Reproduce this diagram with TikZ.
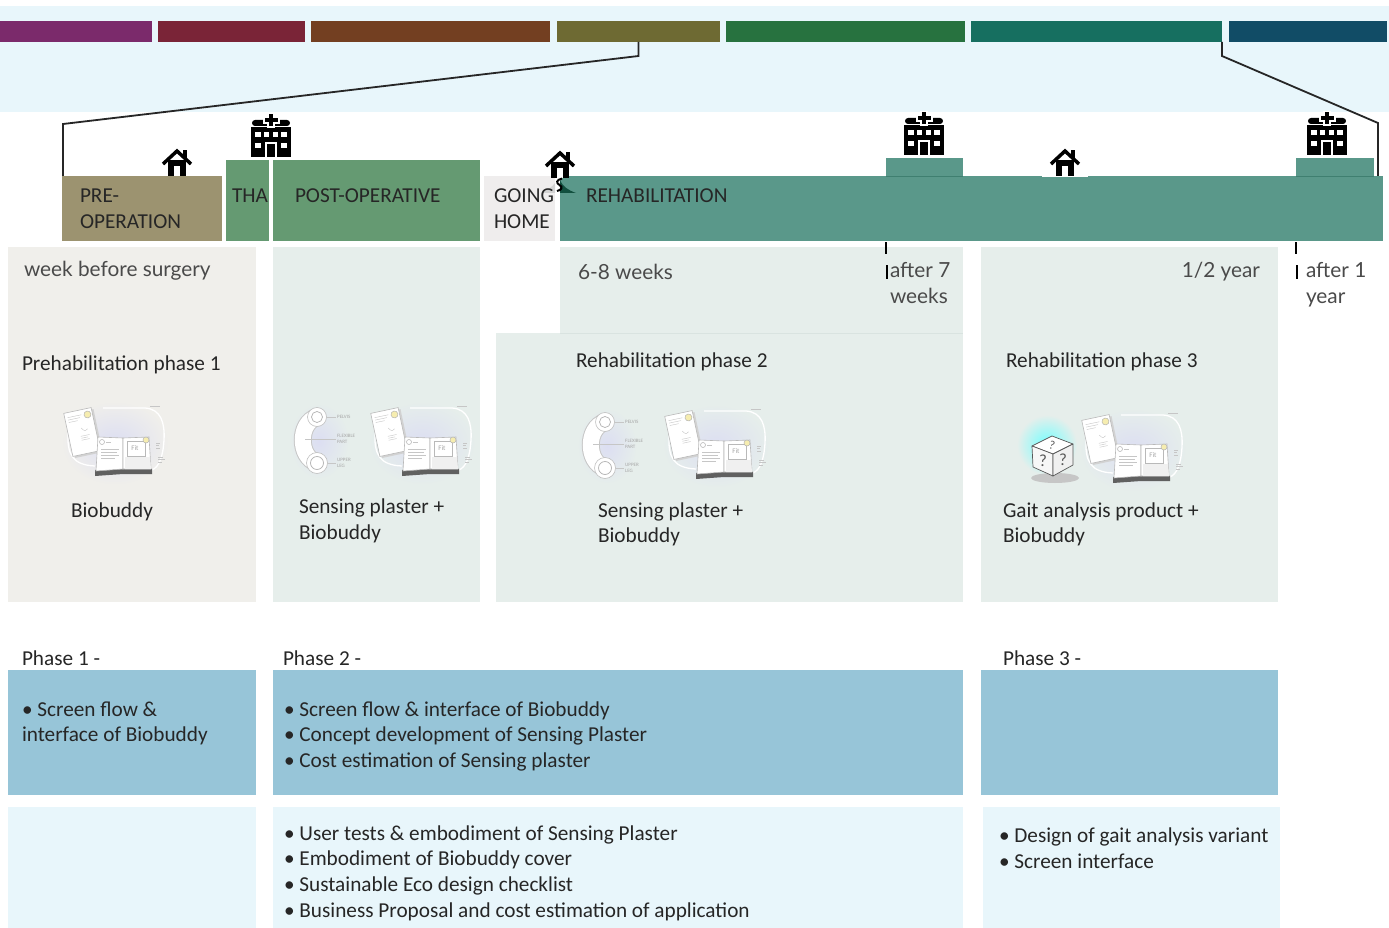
\documentclass[tikz,border=0pt]{standalone}
\usepackage{fontspec}
\setmainfont{Carlito}
\newfontfamily\latofont{Lato}
\usetikzlibrary{fit,calc}

\definecolor{bandc}{HTML}{E8F6FB}
\definecolor{barA}{HTML}{7B2A6B}
\definecolor{barB}{HTML}{7A2437}
\definecolor{barC}{HTML}{733F21}
\definecolor{barD}{HTML}{6E6A33}
\definecolor{barE}{HTML}{27723F}
\definecolor{barF}{HTML}{166F60}
\definecolor{barG}{HTML}{114C66}
\definecolor{preopc}{HTML}{9C9370}
\definecolor{hospc}{HTML}{659A72}
\definecolor{homec}{HTML}{EFEDED}
\definecolor{rehabc}{HTML}{5A988A}
\definecolor{rehabedge}{HTML}{3F7F70}
\definecolor{panelA}{HTML}{F0EFEB}
\definecolor{panelB}{HTML}{E6EEEB}
\definecolor{panelline}{HTML}{D9E3E0}
\definecolor{taskc}{HTML}{97C5D8}
\definecolor{todoc}{HTML}{E8F6FB}
\definecolor{txtc}{HTML}{262626}
\definecolor{timec}{HTML}{4A4A4A}
\definecolor{glowc}{HTML}{DCDEF2}
\definecolor{sunc}{HTML}{F6EDB0}
\definecolor{zigc}{HTML}{12503F}

\newcommand\mainsz{\fontsize{21.25}{25}\selectfont}
\newcommand\latosz{\latofont\fontsize{20.8}{25}\selectfont}
\newcommand\tinysz{\fontsize{5}{6}\selectfont}

\tikzset{
  area/.style={inner sep=0pt, outer sep=0pt, draw=none},
  lbl/.style={anchor=base west, inner sep=0pt, outer sep=0pt, font=\mainsz, text=txtc},
  tlbl/.style={anchor=base west, inner sep=0pt, outer sep=0pt, font=\latosz, text=timec},
  zoomline/.style={draw=black!85, line width=1.8pt, line join=miter},
  tickmark/.style={draw=black, line width=2.4pt},
  sketch/.style={draw=gray!55, line width=0.6pt},
  note/.style={draw=gray!45, line width=0.4pt},
  pics/house/.style={code={
    \fill[black] (-9,-16) rectangle (9,0);
    \fill[white] (-3,-10) rectangle (3,0);
    \fill[black] (6,-26) rectangle (10,-17);
    \draw[black, line width=3.5pt, line join=miter] (-14,-12) -- (0,-25) -- (14,-12);
  }},
  pics/hospital/.style={code={
    \fill[black] (-20,-30) rectangle (20,0);
    \fill[black, rounded corners=3pt] (-19,-31) -- (-19,-37) -- (19,-37) -- (19,-31) -- cycle;
    \fill[white] (-4,-44) rectangle (4,-29);
    \fill[white] (-8.5,-41) rectangle (8.5,-33);
    \fill[black] (-2.2,-42.5) rectangle (2.2,-31);
    \fill[black] (-6.5,-39.2) rectangle (6.5,-34.8);
    \foreach \wx in {-13,-4.5,4.5,13}
      \fill[white] (\wx-2.8,-25) rectangle (\wx+2.8,-19.5);
    \fill[white] (-15.8,-14) rectangle (-10.2,-8.5);
    \fill[white] (10.2,-14) rectangle (15.8,-8.5);
    \fill[white] (-6,-15) rectangle (6,0);
    \fill[black] (-4,-13) rectangle (4,0);
  }},
  % booklet and app card of the Biobuddy
  pics/biobuddy/.style={code={
    \shade[inner color=glowc, outer color=#1] (10,0) ellipse (54 and 42);
    \draw[white, line width=1.3pt] (-37,-10) .. controls (-38,12) and (-32,22) .. (-10,23);
    \draw[white, line width=1.3pt] (-2,-35) -- (40,-35) .. controls (56,-34) and (60,-20) .. (59,-3)
      .. controls (58,14) and (54,24) .. (47,27);
    \begin{scope}[shift={(-23,-11)}, rotate=12]
      \fill[gray!35] (-12,-20) rectangle (16,24);
      \filldraw[fill=white, sketch] (-14,-22) rectangle (14,22);
      \filldraw[fill=sunc, draw=gray!60, line width=0.5pt] (9,-16) circle (3.5);
      \draw[note] (-11,-17) -- (3,-17) (-11,-14.5) -- (1,-14.5) (-11,-12) -- (-2,-12);
      \draw[note] (0,-4) .. controls (3,0) .. (6,-2) (-2,4) -- (7,4) (-2,6) -- (5,6) (-2,8) -- (6,8);
    \end{scope}
    \fill[gray!75!black] (-10,27) -- (18,25) -- (47,26) -- (47,31) -- (18,31) -- (-10,33) -- cycle;
    \filldraw[fill=white, sketch] (-7,-6) -- (18,-5) -- (18,26) -- (-9,28) -- cycle;
    \filldraw[fill=white, sketch] (18,-5) -- (44,-6) -- (46,26) -- (18,26) -- cycle;
    \fill[gray!12] (20,14) -- (45,14) -- (46,26) -- (20,26) -- cycle;
    \draw[sketch] (22,-2) rectangle (40,13);
    \node[inner sep=0pt, text=gray!70, font=\fontsize{7}{7}\selectfont] (fit) at (30,5) {Fit};
    \filldraw[fill=sunc, draw=gray!60, line width=0.5pt] (41,-3) circle (3);
    \draw[sketch] (-3,-1) circle (2.5);
    \draw[note] (1,-1) -- (6,-1) (-4,6) -- (14,6) (-4,9) -- (12,9) (-4,12) -- (14,12) (-4,15) -- (10,15);
    \draw[note] (51,0) -- (55,0) (51,2.5) -- (54,2.5) (51,5) -- (55,5)
      (53,14) -- (58,14) (53,16.5) -- (60,16.5) (53,19) -- (57,19);
    \draw[note] (45,-37) -- (55,-37);
  }},
  % skin plaster with pelvis and upper leg pads
  pics/plaster/.style={code={
    \shade[inner color=glowc, outer color=panelB] (2,24) ellipse (30 and 38);
    \draw[gray!45, line width=18pt, line cap=round] (0,0) .. controls (-19,6) and (-19,40) .. (0,46);
    \draw[white, line width=16pt, line cap=round] (0,0) .. controls (-19,6) and (-19,40) .. (0,46);
    \filldraw[fill=white, draw=gray!50, line width=0.6pt] (0,0) circle (9.5);
    \draw[gray!60, line width=0.7pt] (0,0) circle (5.5);
    \filldraw[fill=white, draw=gray!50, line width=0.6pt] (0,46) circle (10.5);
    \draw[gray!60, line width=0.7pt] (0,46) circle (6.5);
    \draw[note] (9.5,0) -- (19,0) (-12,22) -- (19,22) (10.5,46) -- (19,46);
    \node[anchor=west, inner sep=0pt, text=gray!70, font=\tinysz] (pelvis) at (20,0) {PELVIS};
    \node[anchor=west, inner sep=0pt, text=gray!70, font=\tinysz, align=left] (flex) at (20,22) {FLEXIBLE\\PART};
    \node[anchor=west, inner sep=0pt, text=gray!70, font=\tinysz, align=left] (leg) at (20,46) {UPPER\\LEG};
  }},
  % question-mark cube of the gait analysis product
  pics/qcube/.style={code={
    \shade[inner color=cyan!55!white, outer color=panelB] (-6,-10) circle (30);
    \fill[gray!45] (2,23) ellipse (24 and 5);
    \filldraw[fill=white, draw=gray!70!black, line width=0.7pt, line join=round]
      (-21,-9) -- (-1,-19) -- (20,-11) -- (0,-1) -- cycle;
    \filldraw[fill=white!94!gray, draw=gray!70!black, line width=0.7pt, line join=round]
      (-21,-9) -- (0,-1) -- (0,21) -- (-20,12) -- cycle;
    \filldraw[fill=white!88!gray, draw=gray!70!black, line width=0.7pt, line join=round]
      (0,-1) -- (20,-11) -- (20,10) -- (0,21) -- cycle;
    \node[inner sep=0pt, font=\fontsize{12}{12}\selectfont, text=gray!70!black, rotate=-15] (q1) at (-1,-10) {?};
    \node[inner sep=0pt, font=\fontsize{17}{17}\selectfont, text=gray!70!black] (q2) at (-10,6) {?};
    \node[inner sep=0pt, font=\fontsize{17}{17}\selectfont, text=gray!70!black] (q3) at (10,5) {?};
  }},
}

\begin{document}
\begin{tikzpicture}[x=1pt, y=-1pt]
\useasboundingbox (0,0) rectangle (1389,928);
\fill[white] (0,0) rectangle (1389,928);

% overall care-path band with its seven stages
\node[area, fill=bandc, fit={(0,6) (1389,112)}] (band) {};
\node[area, fill=barA, fit={(0,21) (152,42)}] (bar1) {};
\node[area, fill=barB, fit={(158,21) (305,42)}] (bar2) {};
\node[area, fill=barC, fit={(311,21) (550,42)}] (bar3) {};
\node[area, fill=barD, fit={(557,21) (720,42)}] (bar4) {};
\node[area, fill=barE, fit={(726,21) (965,42)}] (bar5) {};
\node[area, fill=barF, fit={(971,21) (1222,42)}] (bar6) {};
\node[area, fill=barG, fit={(1229,21) (1387,42)}] (bar7) {};

% stage headers
\node[area, fill=preopc, fit={(62,176) (222,241)}] (preop) {};
\node[area, fill=hospc, fit={(226,160) (269,241)}] (tha) {};
\node[area, fill=hospc, fit={(273,160) (480,241)}] (postop) {};
\node[area, fill=homec, fit={(484,176) (555,241)}] (home) {};
\node[area, fill=rehabc, fit={(560,176) (1383,241)}] (rehab) {};
\node[area, fill=rehabc, fit={(886,158) (963,176)}] (visit1) {};
\node[area, fill=rehabc, fit={(1296,158) (1374,176)}] (visit2) {};
\draw[rehabedge, line width=0.8pt] (visit1.south west) -- (visit1.south east);
\draw[rehabedge, line width=0.8pt] (visit2.south west) -- (visit2.south east);
\fill[white] (1042,174.5) rectangle (1088,177);

% zoom from the stage band onto the header row
\draw[zoomline] (bar4.south) -- ++(0,14) -- ($(preop.north west)+(1,-52)$) -- ($(preop.north west)+(1,0)$);
\draw[zoomline] (bar6.south east) -- ++(0,14) -- ($(rehab.north east)+(-5,-53)$) -- ($(rehab.north east)+(-5,0)$);

% home and hospital markers
\pic (homeA) at (177,176) {house};
\pic (hospA) at (271,157) {hospital};
\pic (homeB) at (560,178) {house};
\pic (hospB) at (924,155) {hospital};
\pic (homeC) at (1065,176) {house};
\pic (hospC) at (1327,155) {hospital};

% step from going home into rehabilitation
\fill[zigc] (560,180) .. controls (563,187) and (568,190) .. (576,193) -- (560,193) -- cycle;
\fill[gray!35] (555,183) .. controls (552,187) and (548,190) .. (542,193) -- (555,193) -- cycle;
\draw[black, line width=2pt] (562,178.5) .. controls (556,180) and (556,183) .. (559.5,185)
  .. controls (563,187) and (562,190) .. (557,191);

\node[lbl] (tPre) at (80,203) {PRE-};
\node[lbl] (tOp) at (80,229) {OPERATION};
\node[lbl] (tTha) at (232,203) {THA};
\node[lbl] (tPost) at (295,203) {POST-OPERATIVE};
\node[lbl] (tGo) at (494,203) {GOING};
\node[lbl] (tHome) at (494,229) {HOME};
\node[lbl] (tRehab) at (586,203) {REHABILITATION};

% phase panels
\node[area, fill=panelA, fit={(8,247) (256,602)}] (pan1) {};
\node[area, fill=panelB, fit={(273,247) (480,602)}] (pan2) {};
\node[area, fill=panelB, fit={(560,247) (963,333)}] (pan3top) {};
\node[area, fill=panelB, fit={(496,333) (963,602)}] (pan3) {};
\node[area, fill=panelB, fit={(981,247) (1278,602)}] (pan4) {};
\draw[panelline, line width=0.8pt] (pan3top.south west) -- (pan3top.south east);

% time markers
\draw[tickmark] (886,242) -- (886,254);
\draw[tickmark] (887,265) -- (887,279);
\draw[tickmark] (1296,242) -- (1296,254);
\draw[tickmark] (1297,265) -- (1297,279);

\node[tlbl] (tWeek) at (24,276) {week before surgery};
\node[tlbl] (t68) at (578,279) {6-8 weeks};
\node[tlbl] (tA7) at (890,277) {after 7};
\node[tlbl] (tA7b) at (890,303) {weeks};
\node[tlbl, anchor=base east] (tHalf) at (1260,277) {1/2 year};
\node[tlbl] (tA1) at (1306,277) {after 1};
\node[tlbl] (tA1b) at (1306,303) {year};

\node[lbl] (tP1) at (22,370) {Prehabilitation phase 1};
\node[lbl] (tP2) at (576,367) {Rehabilitation phase 2};
\node[lbl] (tP3) at (1006,367) {Rehabilitation phase 3};

% product sketches
\pic (bbA) at (105,443) {biobuddy=panelA};
\pic (plA) at (317,417) {plaster};
\pic (bbB) at (412,443) {biobuddy=panelB};
\pic (plB) at (605,422) {plaster};
\pic (bbC) at (706,446) {biobuddy=panelB};
\pic (cube) at (1053,455) {qcube};
\pic (bbD) at (1123,450) {biobuddy=panelB};

\node[lbl] (pr1) at (71,517) {Biobuddy};
\node[lbl] (pr2a) at (299,513) {Sensing plaster +};
\node[lbl] (pr2b) at (299,539) {Biobuddy};
\node[lbl] (pr3a) at (598,517) {Sensing plaster +};
\node[lbl] (pr3b) at (598,542) {Biobuddy};
\node[lbl] (pr4a) at (1003,517) {Gait analysis product +};
\node[lbl] (pr4b) at (1003,542) {Biobuddy};

% deliverables per phase
\node[lbl] (ph1) at (22,665) {Phase 1 -};
\node[lbl] (ph2) at (283,665) {Phase 2 -};
\node[lbl] (ph3) at (1003,665) {Phase 3 -};

\node[area, fill=taskc, fit={(8,670) (256,795)}] (task1) {};
\node[area, fill=taskc, fit={(273,670) (963,795)}] (task2) {};
\node[area, fill=taskc, fit={(981,670) (1278,795)}] (task3) {};
\node[area, fill=todoc, fit={(8,807) (256,928)}] (todo1) {};
\node[area, fill=todoc, fit={(273,807) (963,928)}] (todo2) {};
\node[area, fill=todoc, fit={(983,807) (1280,928)}] (todo3) {};

\node[lbl] (k1a) at (22,716) {• Screen flow \&};
\node[lbl] (k1b) at (22,741) {interface of Biobuddy};
\node[lbl] (k2a) at (284,716) {• Screen flow \& interface of Biobuddy};
\node[lbl] (k2b) at (284,741) {• Concept development of Sensing Plaster};
\node[lbl] (k2c) at (284,767) {• Cost estimation of Sensing plaster};

\node[lbl] (d2a) at (284,840) {• User tests \& embodiment of Sensing Plaster};
\node[lbl] (d2b) at (284,865) {• Embodiment of Biobuddy cover};
\node[lbl] (d2c) at (284,891) {• Sustainable Eco design checklist};
\node[lbl] (d2d) at (284,917) {• Business Proposal and cost estimation of application};
\node[lbl] (d3a) at (999,842) {• Design of gait analysis variant};
\node[lbl] (d3b) at (999,868) {• Screen interface};
\end{tikzpicture}
\end{document}
